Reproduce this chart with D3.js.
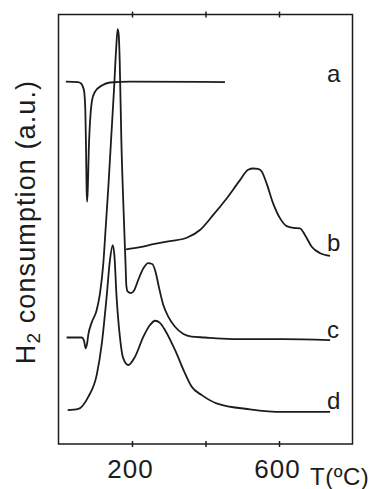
<!DOCTYPE html>
<html>
<head>
<meta charset="utf-8">
<script src="https://cdn.jsdelivr.net/npm/d3@7"></script>
<style>
  body { margin: 0; background: #fff; }
  svg { display: block; font-family: "Liberation Sans", Arial, sans-serif; }
</style>
</head>
<body>
<script>
// TPR traces (temperature in degC, signal in arbitrary units)
const tempA = [20, 53, 61, 69, 73, 75, 76.5, 78, 80, 82.4, 84.6, 87, 91, 99, 118, 140, 195, 453]
const signalA = [84.5, 84.4, 84.1, 82.6, 77.9, 68.6, 59.3, 56.6, 60.5, 68.6, 73.3, 76.7, 80, 82.1, 83.6, 84.3, 84.5, 84.4]

const tempB = [184, 222, 258, 303, 349, 385, 421, 458, 494, 516, 530, 543, 553, 566, 584, 603, 621, 639, 657, 671, 689, 712, 739]
const signalB = [45.5, 46.0, 46.7, 47.4, 48.2, 50.0, 53.5, 57.4, 61.6, 64.0, 64.3, 64.2, 63.6, 60.9, 56.2, 52.7, 50.9, 50.5, 50.4, 48.8, 46.1, 44.6, 44.0]

const tempC = [22, 63, 69, 74, 77.6, 81, 90, 104, 113, 122, 128, 136, 143, 151, 157, 161, 164, 166.5, 171, 177, 183, 184.5, 188, 197, 206, 217, 231, 244, 255, 264, 273, 285, 299, 317, 340, 362, 399, 430, 521, 611, 739]
const signalC = [25.0, 25.0, 24.4, 22.5, 23.5, 25.6, 28.4, 31.4, 35.3, 42.3, 50.0, 60.5, 70.9, 82.6, 92.3, 96.7, 95.3, 89.5, 70.9, 54.7, 40.7, 37.2, 35.7, 35.3, 36.0, 38.4, 41.1, 42.3, 42.1, 40.3, 36.8, 32.6, 29.8, 27.5, 25.8, 25.2, 25.0, 24.8, 24.6, 24.6, 24.4]

const tempD = [25, 54, 81, 104, 118, 131, 140, 147.5, 152, 158, 167, 176, 190, 208, 231, 249, 263, 276, 290, 317, 344, 362, 390, 430, 521, 611, 739]
const signalD = [8.1, 8.4, 11.2, 16.3, 23.7, 34.5, 43.0, 46.5, 44.2, 34.5, 25.2, 20.2, 18.6, 20.5, 25.2, 27.9, 28.9, 28.4, 26.7, 22.1, 16.7, 13.6, 11.6, 9.7, 8.3, 7.7, 7.7]

const seriesNames = ["a", "b", "c", "d"]
const xTicks = [200, 400, 600]
const xTickLabels = ["200", "", "600"]

const width = 374
const height = 489
const frame = { left: 58.5, right: 352.5, top: 14.5, bottom: 444 }

const x = d3.scaleLinear().domain([0, 800]).range([frame.left, frame.right])
const y = d3.scaleLinear().domain([0, 100]).range([445, 15])

const svg = d3.select("body").append("svg")
    .attr("width", width)
    .attr("height", height)

const ink = "#1c1c1c"

// frame
svg.append("rect")
    .attr("x", frame.left)
    .attr("y", frame.top)
    .attr("width", frame.right - frame.left)
    .attr("height", frame.bottom - frame.top)
    .attr("fill", "none")
    .attr("stroke", ink)
    .attr("stroke-width", 1.5)

// axes: ticks cross the frame, only 200 and 600 labelled
const bottomAxis = svg.append("g")
    .attr("transform", `translate(0,${frame.bottom})`)
    .call(d3.axisBottom(x).tickValues(xTicks).tickSize(0).tickPadding(16)
        .tickFormat((d, i) => xTickLabels[i]))
bottomAxis.select(".domain").remove()
bottomAxis.selectAll(".tick line").attr("y1", -3).attr("y2", 3).attr("stroke", ink).attr("stroke-width", 1.5)
bottomAxis.selectAll(".tick text")
    .attr("font-size", 26)
    .attr("font-family", "'Liberation Sans', Arial, sans-serif")
    .attr("letter-spacing", 1)
    .attr("fill", ink)
    .attr("dx", -2)

const topAxis = svg.append("g")
    .attr("transform", `translate(0,${frame.top})`)
    .call(d3.axisTop(x).tickValues(xTicks).tickSize(0).tickFormat(""))
topAxis.select(".domain").remove()
topAxis.selectAll(".tick line").attr("y1", -3).attr("y2", 3).attr("stroke", ink).attr("stroke-width", 1.5)

svg.append("text")
    .attr("x", 310)
    .attr("y", 485)
    .attr("font-size", 24)
    .attr("letter-spacing", 0.5)
    .attr("fill", ink)
    .text("T(ºC)")

// y label
const ylab = svg.append("text")
    .attr("transform", "translate(35,222) rotate(-90)")
    .attr("text-anchor", "middle")
    .attr("font-size", 27)
    .attr("letter-spacing", 1.1)
    .attr("fill", ink)
ylab.append("tspan").text("H")
ylab.append("tspan").attr("font-size", 19).attr("dy", 5).text("2")
ylab.append("tspan").attr("dy", -5).text(" consumption (a.u.)")

// curves
const line = d3.line()
    .x(d => x(d[0]))
    .y(d => y(d[1]))
    .curve(d3.curveMonotoneX)

const series = [
    d3.zip(tempA, signalA),
    d3.zip(tempB, signalB),
    d3.zip(tempC, signalC),
    d3.zip(tempD, signalD)
]

svg.append("g")
    .attr("fill", "none")
    .attr("stroke", ink)
    .attr("stroke-width", 1.8)
    .attr("stroke-linejoin", "round")
    .selectAll("path")
    .data(series)
    .join("path")
    .attr("d", line)

// series letters at the right end of each trace
const labelY = [82, 251, 338, 409]
svg.append("g")
    .selectAll("text")
    .data(seriesNames)
    .join("text")
    .attr("x", 327)
    .attr("y", (d, i) => labelY[i])
    .attr("font-size", 24)
    .attr("fill", ink)
    .text(d => d)
</script>
</body>
</html>
